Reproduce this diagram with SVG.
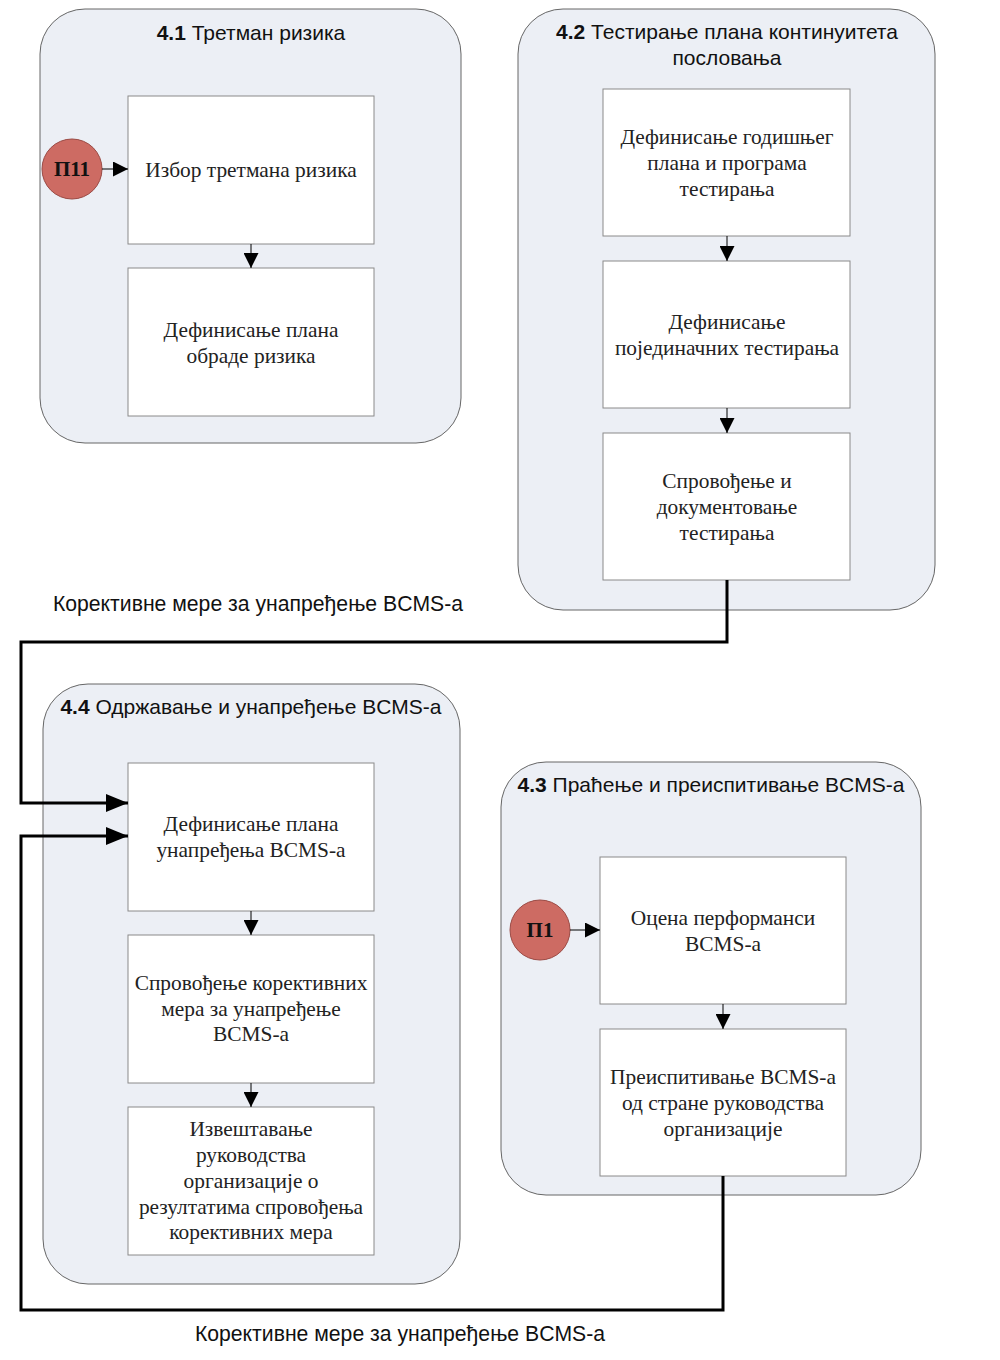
<svg xmlns="http://www.w3.org/2000/svg" width="1000" height="1360" viewBox="0 0 1000 1360">
<style>
.grp{fill:#eceff5;stroke:#666;stroke-width:1}
.box{fill:#ffffff;stroke:#8a8a8a;stroke-width:1}
.ttl{font-family:"Liberation Sans",Arial,sans-serif;font-size:21px;fill:#111;text-anchor:middle}
.num{font-weight:bold}
.txt{font-family:"Liberation Serif","Times New Roman",serif;font-size:21.4px;fill:#222;text-anchor:middle}
.lbl{font-family:"Liberation Sans",Arial,sans-serif;font-size:21.2px;fill:#111;text-anchor:middle}
.circ{fill:#cd6b63;stroke:#9a4a44;stroke-width:1}
.ctxt{font-family:"Liberation Serif","Times New Roman",serif;font-size:21px;font-weight:bold;fill:#111;text-anchor:middle}
.thin{fill:none;stroke:#000;stroke-width:1}
.thick{fill:none;stroke:#000;stroke-width:3}
</style>
<defs>
<marker id="sa" viewBox="0 0 10 10" refX="10" refY="5" markerWidth="15" markerHeight="15" markerUnits="userSpaceOnUse" orient="auto">
<path d="M0,0 L10,5 L0,10 Z" fill="#000"/>
</marker>
<marker id="la" viewBox="0 0 10 10" refX="10" refY="5" markerWidth="22" markerHeight="18" markerUnits="userSpaceOnUse" orient="auto" preserveAspectRatio="none">
<path d="M0,0 L10,5 L0,10 Z" fill="#000"/>
</marker>
</defs>
<rect width="1000" height="1360" fill="#ffffff"/>

<g id="group-4-1">
<rect class="grp" x="40" y="9" width="421" height="434" rx="45" ry="45"/>
<text class="ttl" x="251" y="40"><tspan class="num">4.1</tspan> Третман ризика</text>
</g>
<g id="group-4-2">
<rect class="grp" x="518" y="9" width="417" height="601" rx="45" ry="45"/>
<text class="ttl" x="727" y="39"><tspan class="num">4.2</tspan> Тестирање плана континуитета</text>
<text class="ttl" x="727" y="65">пословања</text>
</g>
<g id="group-4-4">
<rect class="grp" x="43" y="684" width="417" height="600" rx="45" ry="45"/>
<text class="ttl" x="251" y="714"><tspan class="num">4.4</tspan> Одржавање и унапређење BCMS-а</text>
</g>
<g id="group-4-3">
<rect class="grp" x="501" y="762" width="420" height="433" rx="45" ry="45"/>
<text class="ttl" x="711" y="792"><tspan class="num">4.3</tspan> Праћење и преиспитивање BCMS-а</text>
</g>

<g id="n-izbor">
<rect class="box" x="128" y="96" width="246" height="148"/>
<text class="txt" x="251" y="177">Избор третмана ризика</text>
</g>
<g id="n-plan-obrade">
<rect class="box" x="128" y="268" width="246" height="148"/>
<text class="txt" x="251" y="337">Дефинисање плана</text>
<text class="txt" x="251" y="363">обраде ризика</text>
</g>
<g id="n-p11">
<circle class="circ" cx="72" cy="169" r="30"/>
<text class="ctxt" x="72" y="176">П11</text>
</g>

<g id="n-godisnji">
<rect class="box" x="603" y="89" width="247" height="147"/>
<text class="txt" x="727" y="144">Дефинисање годишњег</text>
<text class="txt" x="727" y="170">плана и програма</text>
<text class="txt" x="727" y="196">тестирања</text>
</g>
<g id="n-pojedinacna">
<rect class="box" x="603" y="261" width="247" height="147"/>
<text class="txt" x="727" y="329">Дефинисање</text>
<text class="txt" x="727" y="355">појединачних тестирања</text>
</g>
<g id="n-sprovodjenje-test">
<rect class="box" x="603" y="433" width="247" height="147"/>
<text class="txt" x="727" y="488">Спровођење и</text>
<text class="txt" x="727" y="514">документовање</text>
<text class="txt" x="727" y="540">тестирања</text>
</g>

<g id="n-plan-unapredjenja">
<rect class="box" x="128" y="763" width="246" height="148"/>
<text class="txt" x="251" y="831">Дефинисање плана</text>
<text class="txt" x="251" y="857">унапређења BCMS-а</text>
</g>
<g id="n-sprovodjenje-mera">
<rect class="box" x="128" y="935" width="246" height="148"/>
<text class="txt" x="251" y="990">Спровођење корективних</text>
<text class="txt" x="251" y="1016">мера за унапређење</text>
<text class="txt" x="251" y="1041">BCMS-а</text>
</g>
<g id="n-izvestavanje">
<rect class="box" x="128" y="1107" width="246" height="148"/>
<text class="txt" x="251" y="1136">Извештавање</text>
<text class="txt" x="251" y="1162">руководства</text>
<text class="txt" x="251" y="1188">организације о</text>
<text class="txt" x="251" y="1214">резултатима спровођења</text>
<text class="txt" x="251" y="1239">корективних мера</text>
</g>

<g id="n-ocena">
<rect class="box" x="600" y="857" width="246" height="147"/>
<text class="txt" x="723" y="925">Оцена перформанси</text>
<text class="txt" x="723" y="951">BCMS-а</text>
</g>
<g id="n-preispitivanje">
<rect class="box" x="600" y="1029" width="246" height="147"/>
<text class="txt" x="723" y="1084">Преиспитивање BCMS-а</text>
<text class="txt" x="723" y="1110">од стране руководства</text>
<text class="txt" x="723" y="1136">организације</text>
</g>
<g id="n-p1">
<circle class="circ" cx="540" cy="930" r="30"/>
<text class="ctxt" x="540" y="937">П1</text>
</g>

<g id="connectors">
<line class="thin" x1="102" y1="169" x2="128" y2="169" marker-end="url(#sa)"/>
<line class="thin" x1="251" y1="244" x2="251" y2="268" marker-end="url(#sa)"/>
<line class="thin" x1="727" y1="236" x2="727" y2="261" marker-end="url(#sa)"/>
<line class="thin" x1="727" y1="408" x2="727" y2="433" marker-end="url(#sa)"/>
<line class="thin" x1="251" y1="911" x2="251" y2="935" marker-end="url(#sa)"/>
<line class="thin" x1="251" y1="1083" x2="251" y2="1107" marker-end="url(#sa)"/>
<line class="thin" x1="570" y1="930" x2="600" y2="930" marker-end="url(#sa)"/>
<line class="thin" x1="723" y1="1004" x2="723" y2="1029" marker-end="url(#sa)"/>
<path class="thick" d="M727,580 L727,642 L21,642 L21,803 L128,803" marker-end="url(#la)"/>
<path class="thick" d="M723,1176 L723,1310 L21,1310 L21,836 L128,836" marker-end="url(#la)"/>
<text class="lbl" x="258" y="611">Корективне мере за унапређење BCMS-а</text>
<text class="lbl" x="400" y="1341">Корективне мере за унапређење BCMS-а</text>
</g>
</svg>
